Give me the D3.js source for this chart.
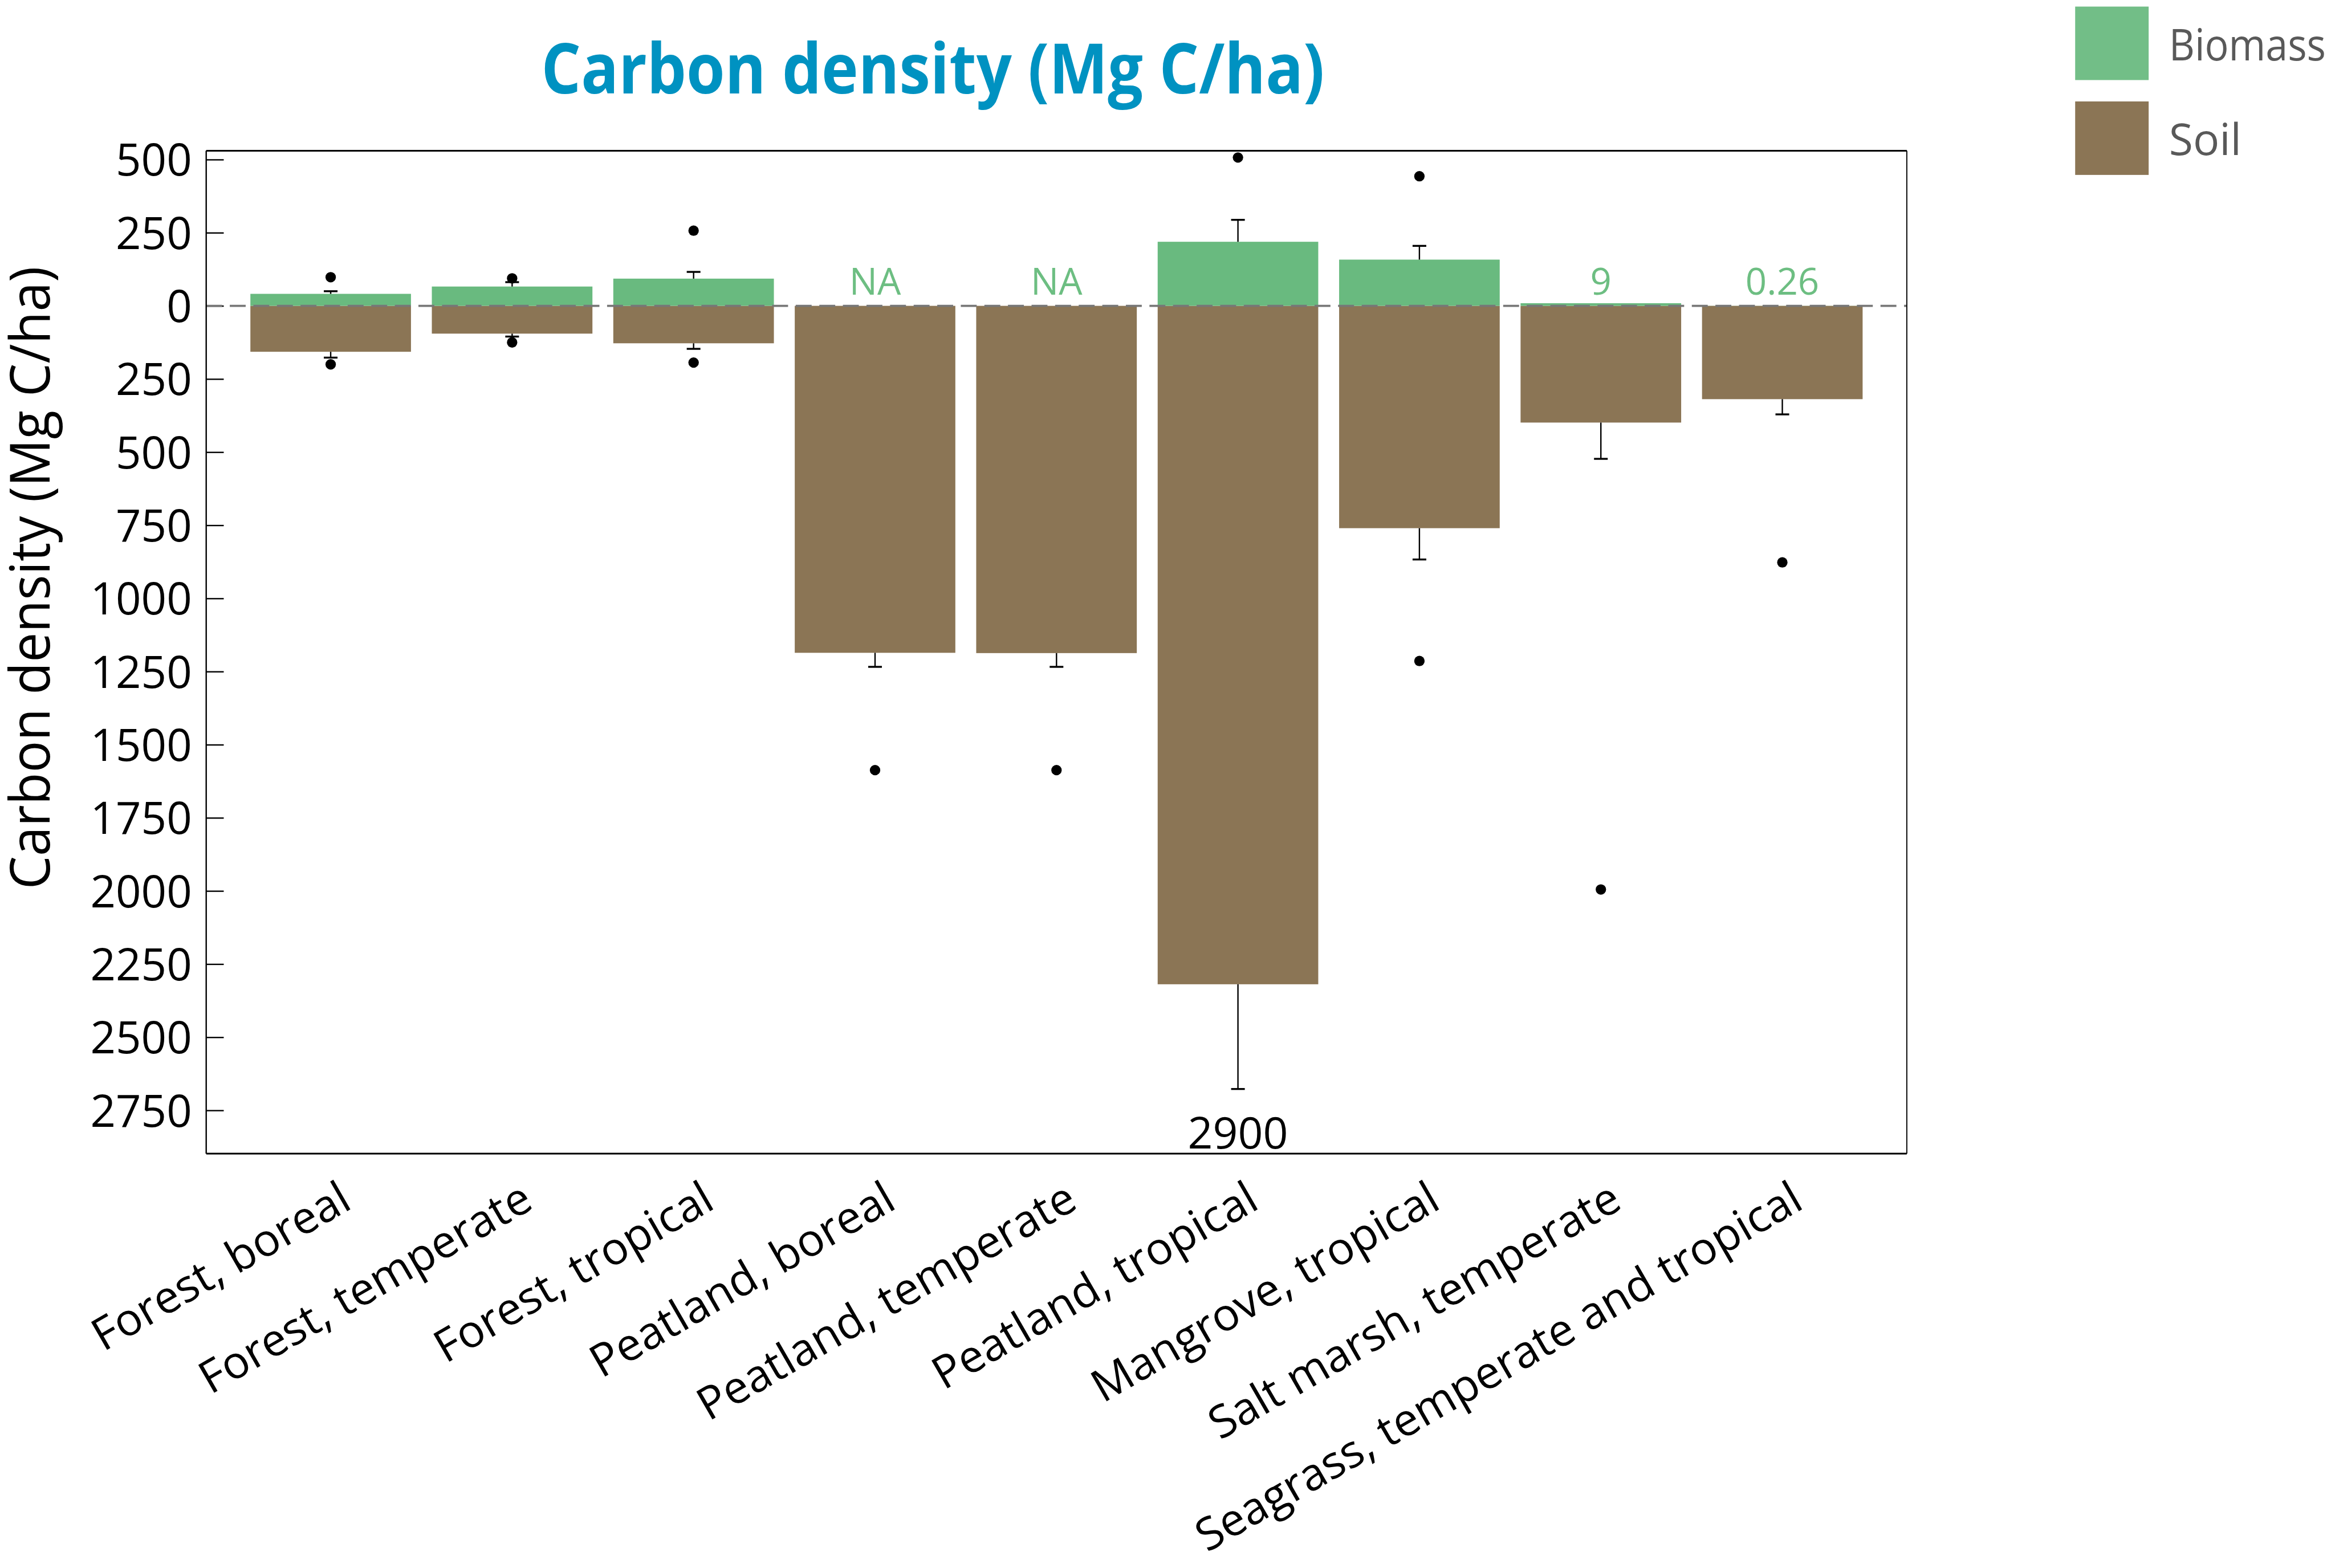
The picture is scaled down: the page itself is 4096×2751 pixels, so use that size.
<!DOCTYPE html>
<html>
<head>
<meta charset="utf-8">
<script src="https://cdn.jsdelivr.net/npm/d3@7"></script>
<style>
  html, body { margin: 0; padding: 0; background: #ffffff; }
  svg { display: block; }
</style>
</head>
<body>
<svg id="chart" width="4096" height="2751"></svg>
<script>
// ---------------- DATA ----------------
const categories = [
  "Forest, boreal",
  "Forest, temperate",
  "Forest, tropical",
  "Peatland, boreal",
  "Peatland, temperate",
  "Peatland, tropical",
  "Mangrove, tropical",
  "Salt marsh, temperate",
  "Seagrass, temperate and tropical"
];
// Biomass carbon (Mg C/ha), plotted upward; null = not available
const biomassMean  = [41, 66, 93, null, null, 219, 158, 9, 0.26];
const biomassError = [50, 81, 116, null, null, 294, 205, null, null];
const biomassMax   = [98, 94, 257, null, null, 507, 443, null, null];
const biomassText  = ["", "", "", "NA", "NA", "", "", "9", "0.26"];
// Soil carbon (Mg C/ha), plotted downward
const soilMean  = [157, 95, 128, 1186, 1187, 2319, 760, 399, 319];
const soilError = [177, 105, 147, 1234, 1234, 2677, 867, 523, 371];
const soilMax   = [200, 125, 194, 1587, 1587, 2900, 1214, 1995, 877];
// Axis ticks (signed: positive = biomass, negative = soil)
const yTicks = [500, 250, 0, -250, -500, -750, -1000, -1250, -1500, -1750, -2000, -2250, -2500, -2750];
const seriesNames = ["Biomass", "Soil"];

// ---------------- SETUP ----------------
const S = 0.962;
const FONT = "'Open Sans', 'Noto Sans', 'DejaVu Sans', sans-serif";
const GREEN = "#69ba7f", BROWN = "#8b7555";
const svg = d3.select("#chart");
const root = svg.append("g").attr("transform", `scale(${S})`);

const plot = { left: 376, right: 3477, top: 275, bottom: 2104 };

const x = d3.scaleBand()
  .domain(categories)
  .range([plot.left, plot.right])
  .paddingInner(0.115)
  .paddingOuter(0.2435);

const y = d3.scaleLinear()
  .domain([-2898, 530])
  .range([plot.bottom, plot.top]);

const rows = categories.map((c, i) => ({
  cat: c,
  bm: biomassMean[i], be: biomassError[i], bx: biomassMax[i], bt: biomassText[i],
  sm: soilMean[i], se: soilError[i], sx: soilMax[i]
}));
const cx = d => x(d.cat) + x.bandwidth() / 2;

// ---------------- BARS ----------------
root.append("g").selectAll("rect").data(rows).join("rect")
  .attr("x", d => x(d.cat))
  .attr("width", x.bandwidth())
  .attr("y", y(0))
  .attr("height", d => y(-d.sm) - y(0))
  .attr("fill", BROWN);

root.append("g").selectAll("rect").data(rows.filter(d => d.bm != null)).join("rect")
  .attr("x", d => x(d.cat))
  .attr("width", x.bandwidth())
  .attr("y", d => y(d.bm))
  .attr("height", d => y(0) - y(d.bm))
  .attr("fill", GREEN);

// ---------------- Y AXIS ----------------
const yAxis = d3.axisLeft(y)
  .tickValues(yTicks)
  .tickFormat(d => Math.abs(d))
  .tickSizeInner(-32)
  .tickSizeOuter(0)
  .tickPadding(26);
const gy = root.append("g").attr("transform", `translate(${plot.left},0)`).call(yAxis);
gy.select(".domain").remove();
gy.selectAll(".tick line").attr("stroke", "#000").attr("stroke-width", 2.5);
gy.selectAll(".tick text")
  .attr("font-family", FONT).attr("font-size", 81).attr("fill", "#000").attr("dy", "0.36em");

// ---------------- ZERO LINE ----------------
root.append("line")
  .attr("x1", plot.left).attr("x2", plot.right)
  .attr("y1", y(0)).attr("y2", y(0))
  .attr("stroke", "#777").attr("stroke-width", 4)
  .attr("stroke-dasharray", "29,14");

// ---------------- ERROR BARS ----------------
const CAP = 25;
const errG = root.append("g").attr("stroke", "#000");
const bErr = rows.filter(d => d.be != null);
errG.selectAll("line.bstem").data(bErr).join("line").attr("class", "bstem")
  .attr("x1", cx).attr("x2", cx).attr("y1", d => y(d.bm)).attr("y2", d => y(d.be))
  .attr("stroke-width", 2.5);
errG.selectAll("line.bcap").data(bErr).join("line").attr("class", "bcap")
  .attr("x1", d => cx(d) - CAP / 2).attr("x2", d => cx(d) + CAP / 2)
  .attr("y1", d => y(d.be)).attr("y2", d => y(d.be))
  .attr("stroke-width", 3.5);
errG.selectAll("line.sstem").data(rows).join("line").attr("class", "sstem")
  .attr("x1", cx).attr("x2", cx).attr("y1", d => y(-d.sm)).attr("y2", d => y(-d.se))
  .attr("stroke-width", 2.5);
errG.selectAll("line.scap").data(rows).join("line").attr("class", "scap")
  .attr("x1", d => cx(d) - CAP / 2).attr("x2", d => cx(d) + CAP / 2)
  .attr("y1", d => y(-d.se)).attr("y2", d => y(-d.se))
  .attr("stroke-width", 3.5);

// ---------------- MAX POINTS ----------------
const yMin = y.domain()[0];
const dotG = root.append("g").attr("fill", "#000");
dotG.selectAll("circle.b").data(rows.filter(d => d.bx != null)).join("circle").attr("class", "b")
  .attr("cx", cx).attr("cy", d => y(d.bx)).attr("r", 9.5);
dotG.selectAll("circle.s").data(rows.filter(d => -d.sx > yMin + 20)).join("circle").attr("class", "s")
  .attr("cx", cx).attr("cy", d => y(-d.sx)).attr("r", 9.5);
// off-scale maximum written as a number
root.append("g").selectAll("text").data(rows.filter(d => -d.sx <= yMin + 20)).join("text")
  .attr("x", cx).attr("y", plot.bottom - 9)
  .attr("text-anchor", "middle")
  .attr("font-family", FONT).attr("font-size", 80).attr("fill", "#000")
  .text(d => d.sx);

// biomass value labels (NA / small values)
root.append("g").selectAll("text").data(rows.filter(d => d.bt !== "")).join("text")
  .attr("x", cx).attr("y", y(0) - 20)
  .attr("text-anchor", "middle")
  .attr("font-family", FONT).attr("font-size", 68).attr("fill", "#6dbe82")
  .text(d => d.bt);

// ---------------- FRAME ----------------
const fr = root.append("g").attr("stroke", "#000").attr("fill", "none");
fr.append("line").attr("x1", plot.left).attr("x2", plot.right).attr("y1", plot.top).attr("y2", plot.top).attr("stroke-width", 3);
fr.append("line").attr("x1", plot.left).attr("x2", plot.right).attr("y1", plot.bottom).attr("y2", plot.bottom).attr("stroke-width", 3);
fr.append("line").attr("x1", plot.left).attr("x2", plot.left).attr("y1", plot.top).attr("y2", plot.bottom).attr("stroke-width", 2.5);
fr.append("line").attr("x1", plot.right).attr("x2", plot.right).attr("y1", plot.top).attr("y2", plot.bottom).attr("stroke-width", 2);

// ---------------- X AXIS LABELS ----------------
const xAxis = d3.axisBottom(x).tickSize(0);
const gx = root.append("g").attr("transform", `translate(0,2202)`).call(xAxis);
gx.select(".domain").remove();
gx.selectAll(".tick text")
  .attr("x", 0).attr("y", 0).attr("dy", 0)
  .attr("transform", "translate(42,0) rotate(-30)")
  .attr("text-anchor", "end")
  .attr("font-family", FONT).attr("font-size", 82).attr("fill", "#000");

// ---------------- TITLES ----------------
root.append("text")
  .attr("x", 987).attr("y", 170)
  .attr("font-family", FONT).attr("font-weight", 700).attr("font-size", 127)
  .attr("fill", "#0092c1")
  .attr("textLength", 1428).attr("lengthAdjust", "spacingAndGlyphs")
  .text("Carbon density (Mg C/ha)");

root.append("text")
  .attr("transform", "translate(90,1054) rotate(-90)")
  .attr("text-anchor", "middle")
  .attr("font-family", FONT).attr("font-size", 100).attr("fill", "#000")
  .attr("textLength", 1136).attr("lengthAdjust", "spacingAndGlyphs")
  .text("Carbon density (Mg C/ha)");

// ---------------- LEGEND ----------------
const legColors = ["#72be87", BROWN];
const legY = [12, 185];
const lg = root.append("g");
lg.selectAll("rect").data(seriesNames).join("rect")
  .attr("x", 3784).attr("y", (d, i) => legY[i])
  .attr("width", 134).attr("height", 134)
  .attr("fill", (d, i) => legColors[i]);
lg.selectAll("text").data(seriesNames).join("text")
  .attr("x", 3955).attr("y", (d, i) => legY[i] + 98)
  .attr("font-family", FONT).attr("font-size", 80).attr("fill", "#595959")
  .each(function (d) { if (d === "Biomass") d3.select(this).attr("textLength", 286).attr("lengthAdjust", "spacingAndGlyphs"); })
  .text(d => d);
</script>
</body>
</html>
